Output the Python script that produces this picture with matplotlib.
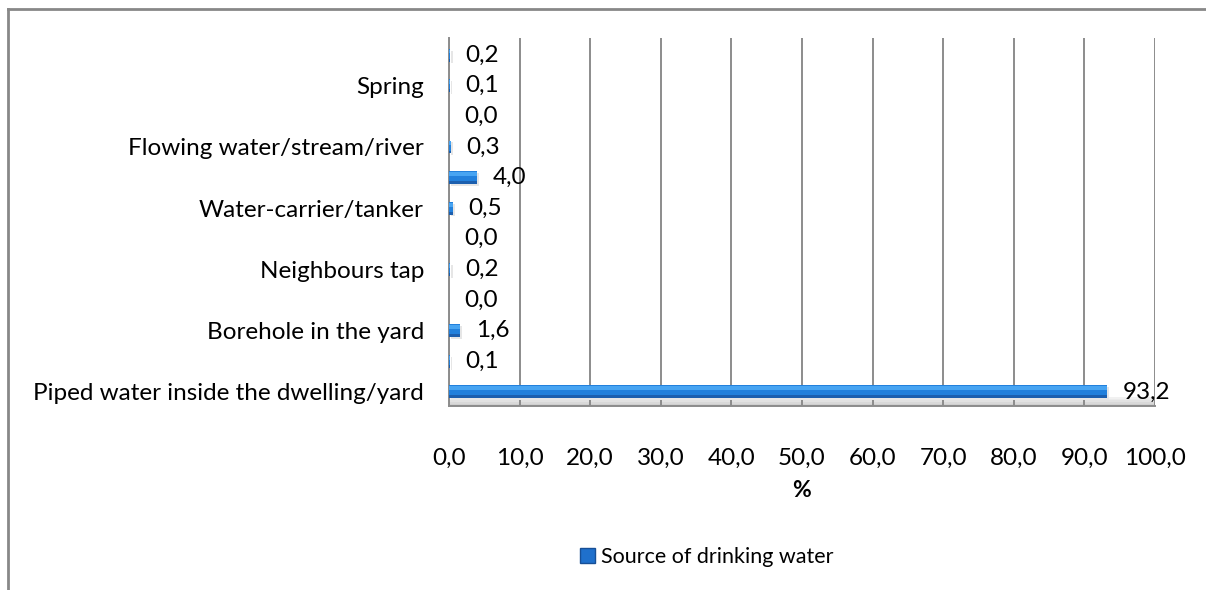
import matplotlib
matplotlib.use("Agg")
import matplotlib.pyplot as plt
from matplotlib.lines import Line2D
from matplotlib.patches import Rectangle

plt.rcParams["font.family"] = ["Lato", "DejaVu Sans"]

# sources, bottom to top
sources = [
    "Piped water inside the dwelling/yard",
    "Rain-water tank in the yard",
    "Borehole in the yard",
    "Borehole outside the yard",
    "Neighbours tap",
    "Dam/pool/stagnant water",
    "Water-carrier/tanker",
    "Public/communal tap",
    "Flowing water/stream/river",
    "Well",
    "Spring",
    "Other",
]
share = [93.2, 0.1, 1.6, 0.0, 0.2, 0.0, 0.5, 4.0, 0.3, 0.0, 0.1, 0.2]
xticks = [0, 10, 20, 30, 40, 50, 60, 70, 80, 90, 100]

fs = 17.5
fig = plt.figure(figsize=(12.06, 5.90), dpi=100)
ax = fig.add_axes([0.3723, 0.3119, 0.5854, 0.6237])

pos = list(range(len(sources)))
h = 0.42
grid = "#8c8c8c"

# floor of the pseudo-3D plot area
for i, c in enumerate(["#cfcfcf", "#d9d9d9", "#e2e2e2", "#eaeaea", "#f1f1f1"]):
    ax.axhspan(-0.46 + i * 0.06, -0.40 + i * 0.06, color=c, lw=0, zorder=0)

for x in xticks:
    ax.axvline(x, color=grid, lw=1.4, zorder=1)

# bars: soft shadow, dark lower edge, mid blue body, light top edge
ax.barh([p - 0.06 for p in pos], share, height=h, left=0.3, color="#e6e6e6",
        zorder=2)
ax.barh(pos, share, height=h, color="#2280dc", zorder=3)
ax.barh([p - h * 0.39 for p in pos], share, height=h * 0.22, color="#1c5fae",
        zorder=4)
ax.barh([p + h * 0.28 for p in pos], share, height=h * 0.3, color="#47a4f2",
        zorder=4)

for p, v in zip(pos, share):
    ax.annotate(f"{v:.1f}".replace(".", ","), (v, p), xytext=(11, 0),
                textcoords="offset points", va="center", ha="left", fontsize=fs)

ax.set_xlim(0, 100)
ax.set_ylim(-0.46, 11.56)
ax.set_xticks(xticks)
ax.set_xticklabels([f"{x:.1f}".replace(".", ",") for x in xticks], fontsize=fs)
ax.set_yticks(pos)
ax.set_yticklabels([s if i % 2 == 0 else "" for i, s in enumerate(sources)],
                   fontsize=fs)
ax.tick_params(axis="x", length=0, pad=30)
ax.tick_params(axis="y", length=0, pad=18)
ax.set_xlabel("%", fontsize=fs - 1, fontweight="bold", labelpad=8)

for side in ["top", "right"]:
    ax.spines[side].set_visible(False)
for side in ["left", "bottom"]:
    ax.spines[side].set_color(grid)
    ax.spines[side].set_linewidth(1.4)

handle = Rectangle((0, 0), 1, 1, facecolor="#1f70cc", edgecolor="#174f96", lw=1)
fig.legend([handle], ["Source of drinking water"], loc="center",
           bbox_to_anchor=(0.586, 0.056), frameon=False, fontsize=15.5,
           handlelength=0.7, handleheight=0.7, handletextpad=0.3)

# chart frame
fig.add_artist(Line2D([8 / 1206, 1.0], [1 - 9 / 590] * 2, color="#888888", lw=2,
                      transform=fig.transFigure))
fig.add_artist(Line2D([8 / 1206] * 2, [0, 1 - 9 / 590], color="#888888", lw=2,
                      transform=fig.transFigure))

fig.savefig("out.png", dpi=100)
